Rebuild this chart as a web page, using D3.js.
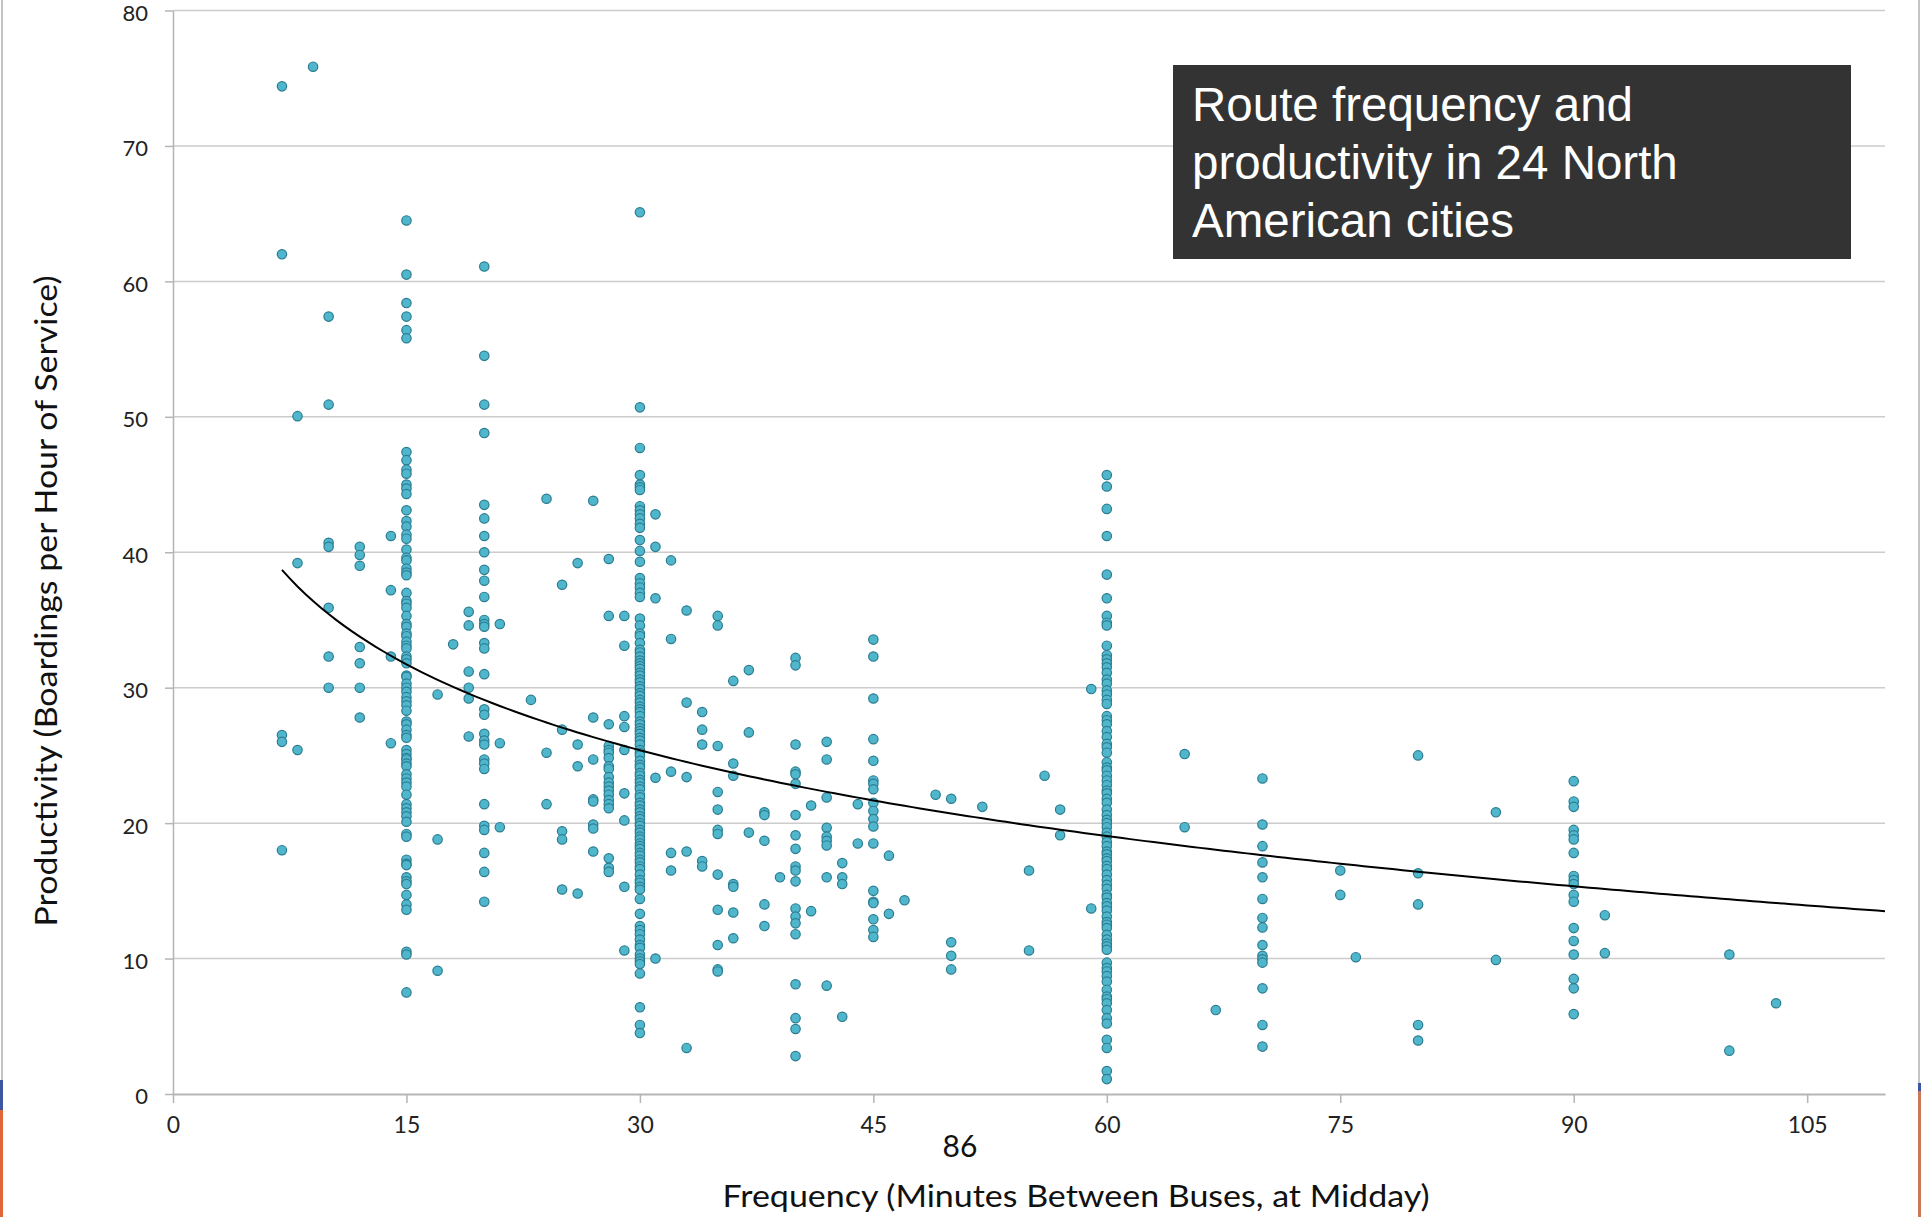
<!DOCTYPE html>
<html>
<head>
<meta charset="utf-8">
<script src="https://cdn.jsdelivr.net/npm/d3@7"></script>
<style>
  body { margin: 0; background: #fff; }
  svg { display: block; }
</style>
</head>
<body>
<script>
// frequencies (minutes between buses) and the productivity readings at each one
var freqs = [7, 8, 9, 10, 12, 14, 15, 17, 18, 19, 20, 21, 23, 24, 25, 26, 27, 28, 29, 30,
  31, 32, 33, 34, 35, 36, 37, 38, 39, 40, 41, 42, 43, 44, 45, 46, 47, 49, 50, 52,
  55, 56, 57, 59, 60, 65, 67, 70, 75, 76, 80, 85, 90, 92, 100, 103];

var productivity = [
  [74.4, 62.0, 26.5, 26.0, 18.0],                       // 7
  [50.05, 39.2, 25.4],                                  // 8
  [75.85],                                              // 9
  [57.4, 50.9, 40.7, 40.4, 35.9, 32.3, 30.0],           // 10
  [40.4, 39.8, 39.0, 33.0, 31.8, 30.0, 27.8],           // 12
  [41.2, 37.2, 32.3, 25.9],                             // 14
  [64.5, 60.5, 58.4, 57.4, 56.4, 55.8, 47.4, 46.8, 46.1, 45.8, 45.0, 44.7, 44.3, 43.1, 42.3,
   41.9, 41.3, 41.0, 40.2, 39.6, 39.4, 38.8, 38.5, 38.3, 37.0, 36.4, 36.2, 35.9, 35.3, 34.7,
   34.5, 34.0, 33.8, 33.4, 33.1, 32.9, 32.3, 32.1, 31.8, 30.9, 30.8, 30.3, 30.0, 29.7, 29.3,
   29.0, 28.7, 28.3, 27.5, 27.3, 26.9, 26.5, 26.3, 25.4, 25.1, 24.8, 24.7, 24.4, 24.2, 23.6,
   23.3, 23.0, 22.7, 22.1, 21.4, 21.1, 20.8, 20.5, 20.1, 19.2, 19.0, 17.3, 17.0, 16.9, 16.0,
   15.7, 15.5, 14.7, 14.0, 13.6, 10.5, 10.3, 7.5],      // 15
  [29.5, 18.8, 9.1],                                    // 17
  [33.2],                                               // 18
  [35.6, 34.6, 31.2, 30.0, 29.2, 26.4],                 // 19
  [61.1, 54.5, 50.9, 48.8, 43.5, 42.5, 41.2, 40.0, 38.7, 37.9, 36.7, 35.0, 34.7, 34.5, 33.3,
   32.9, 31.0, 28.4, 28.0, 26.6, 26.1, 25.8, 24.7, 24.4, 24.0, 21.4, 19.8, 19.5, 17.8, 16.4,
   14.2],                                               // 20
  [34.7, 25.9, 19.7],                                   // 21
  [29.1],                                               // 23
  [43.95, 25.2, 21.4],                                  // 24
  [37.6, 26.9, 19.4, 18.8, 15.1],                       // 25
  [39.2, 25.8, 24.2, 14.8],                             // 26
  [43.8, 27.8, 24.7, 21.75, 21.6, 19.9, 19.6, 17.9],    // 27
  [39.5, 35.3, 27.3, 25.7, 25.4, 25.2, 24.8, 24.2, 24.0, 23.4, 23.0, 22.7, 22.4, 22.1, 21.7,
   21.4, 21.1, 17.4, 16.7, 16.4],                       // 28
  [35.3, 33.1, 27.9, 27.1, 25.4, 22.2, 20.2, 15.3, 10.6], // 29
  [65.1, 50.7, 47.7, 45.7, 45.0, 44.8, 44.6, 43.4, 43.1, 42.8, 42.5, 42.1, 41.8, 40.9, 40.1,
   39.3, 38.1, 37.7, 37.4, 37.0, 36.7, 35.1, 34.6, 34.0, 33.8, 33.3, 32.8, 32.6, 32.3, 32.0,
   31.8, 31.6, 31.4, 31.1, 30.9, 30.6, 30.4, 30.1, 29.9, 29.6, 29.4, 29.1, 28.9, 28.6, 28.4,
   28.2, 27.9, 27.5, 27.3, 27.0, 26.8, 26.6, 26.3, 26.1, 25.8, 25.4, 25.2, 25.0, 24.6, 24.3,
   24.1, 23.7, 23.5, 23.2, 23.0, 22.7, 22.5, 22.1, 21.9, 21.5, 21.3, 21.0, 20.8, 20.5, 20.3,
   20.0, 19.8, 19.5, 19.3, 19.0, 18.8, 18.5, 18.3, 18.1, 17.8, 17.6, 17.3, 17.1, 16.8, 16.6,
   16.2, 15.8, 15.6, 15.3, 15.1, 14.4, 13.3, 12.4, 12.1, 11.8, 11.4, 11.0, 10.8, 10.3, 10.0,
   9.8, 9.6, 8.9, 6.4, 5.1, 4.5],                       // 30
  [42.8, 40.4, 36.6, 23.35, 10.0],                      // 31
  [39.4, 33.6, 23.8, 17.8, 16.5],                       // 32
  [35.7, 28.9, 23.4, 17.9, 3.4],                        // 33
  [28.2, 26.9, 25.8, 17.2, 16.8],                       // 34
  [35.3, 34.6, 25.7, 22.3, 21.0, 19.5, 19.2, 16.2, 13.6, 11.0, 9.2, 9.05], // 35
  [30.5, 24.4, 23.5, 15.5, 15.3, 13.4, 11.5],           // 36
  [31.3, 26.7, 19.3],                                   // 37
  [20.8, 20.6, 18.7, 14.0, 12.4],                       // 38
  [16.0],                                               // 39
  [32.2, 31.65, 25.8, 23.8, 23.6, 22.9, 20.6, 19.1, 18.1, 16.8, 16.5, 15.7, 13.7, 13.1, 12.6,
   11.8, 8.1, 5.6, 4.8, 2.8],                           // 40
  [21.3, 13.5],                                         // 41
  [26.0, 24.7, 21.9, 19.65, 19.0, 18.7, 18.35, 16.0, 8.0], // 42
  [17.05, 16.0, 15.5, 5.7],                             // 43
  [21.4, 18.5],                                         // 44
  [33.55, 32.3, 29.2, 26.2, 24.6, 23.15, 22.9, 22.5, 21.5, 20.9, 20.3, 19.75, 18.5, 15.0,
   14.2, 14.1, 12.9, 12.1, 11.6],                       // 45
  [17.6, 13.3],                                         // 46
  [14.3],                                               // 47
  [22.1],                                               // 49
  [21.8, 11.2, 10.2, 9.2],                              // 50
  [21.2],                                               // 52
  [16.5, 10.6],                                         // 55
  [23.5],                                               // 56
  [21.0, 19.1],                                         // 57
  [29.9, 13.7],                                         // 59
  [45.7, 44.85, 43.2, 41.2, 38.35, 36.6, 35.3, 34.8, 34.6, 33.1, 32.4, 32.1, 31.8, 31.5, 31.1,
   30.6, 30.3, 29.8, 29.5, 29.1, 28.8, 27.9, 27.6, 27.3, 26.8, 26.35, 25.85, 25.6, 25.2, 24.5,
   24.1, 23.9, 23.5, 23.15, 22.8, 22.4, 22.2, 21.8, 21.5, 21.0, 20.6, 20.25, 20.0, 19.7, 19.3,
   19.0, 18.6, 18.3, 17.9, 17.7, 17.4, 17.2, 16.85, 16.6, 16.2, 15.8, 15.45, 15.15, 14.7, 14.5,
   14.1, 13.85, 13.55, 13.1, 12.7, 12.5, 12.25, 11.75, 11.4, 11.1, 10.9, 10.65, 9.7, 9.3, 9.05,
   8.7, 8.3, 7.7, 7.2, 7.0, 6.7, 6.2, 5.6, 5.2, 4.0, 3.4, 1.7, 1.1], // 60
  [25.1, 19.7],                                         // 65
  [6.2],                                                // 67
  [23.3, 19.9, 18.3, 17.1, 16.0, 14.4, 13.0, 12.3, 11.0, 10.2, 9.95, 9.7, 7.8, 5.1, 3.5], // 70
  [16.5, 14.7],                                         // 75
  [10.1],                                               // 76
  [25.0, 16.3, 14.0, 5.1, 3.95],                        // 80
  [20.8, 9.9],                                          // 85
  [23.1, 21.6, 21.2, 19.5, 19.1, 18.8, 17.8, 16.1, 15.8, 15.5, 14.7, 14.2, 12.25, 11.3, 10.3,
   8.5, 7.8, 5.9],                                      // 90
  [13.2, 10.4],                                         // 92
  [10.3, 3.2],                                          // 100
  [6.7]                                                 // 103
];

var xTicks = [0, 15, 30, 45, 60, 75, 90, 105];
var yTicks = [0, 10, 20, 30, 40, 50, 60, 70, 80];

// logarithmic trend line as drawn on the chart: y = a + b * ln(x), from x=7 to x=110
var trendA = 56.5;
var trendB = -9.148;
var trendFrom = 7;
var trendTo = 110;

var titleLines = ["Route frequency and", "productivity in 24 North", "American cities"];

// flatten to points
var points = [];
freqs.forEach(function(f, i) {
  productivity[i].forEach(function(v) { points.push({ f: f, v: v }); });
});

var w = 1921, h = 1217;
var plotLeft = 173, plotRight = 1885, plotTop = 10.5, plotBottom = 1094;

var svg = d3.select("body").append("svg")
  .attr("width", w)
  .attr("height", h);

svg.append("rect").attr("width", w).attr("height", h).attr("fill", "#fff");

var x = d3.scaleLinear().domain([0, 110]).range([plotLeft, plotRight]);
var y = d3.scaleLinear().domain([0, 80]).range([plotBottom, plotTop]);

// horizontal gridlines
svg.append("g")
  .selectAll("line")
  .data(yTicks.filter(function(d) { return d > 0; }))
  .enter()
  .append("line")
  .attr("x1", plotLeft)
  .attr("x2", plotRight)
  .attr("y1", function(d) { return y(d); })
  .attr("y2", function(d) { return y(d); })
  .style("stroke", "#cccccc")
  .style("stroke-width", 1.5);

var axisFont = "Lato, 'Open Sans', sans-serif";

// y axis
var yAxis = svg.append("g")
  .attr("transform", "translate(" + plotLeft + ",0)")
  .call(d3.axisLeft(y).tickValues(yTicks).tickSize(8).tickSizeOuter(0).tickPadding(17));
yAxis.select(".domain").style("stroke", "#b5b5b5").style("stroke-width", 1.5);
yAxis.selectAll(".tick line").style("stroke", "#b5b5b5").style("stroke-width", 1.5);
yAxis.selectAll("text")
  .attr("dy", "0.45em")
  .style("font-family", axisFont)
  .style("font-size", "22px")
  .style("fill", "#222");

// x axis
var xAxis = svg.append("g")
  .attr("transform", "translate(0," + plotBottom + ")")
  .call(d3.axisBottom(x).tickValues(xTicks).tickSize(9).tickSizeOuter(0).tickPadding(14));
xAxis.select(".domain").style("stroke", "#b5b5b5").style("stroke-width", 2);
xAxis.selectAll(".tick line").style("stroke", "#b5b5b5").style("stroke-width", 1.5);
xAxis.selectAll("text")
  .style("font-family", axisFont)
  .style("font-size", "23px")
  .style("fill", "#222");

// points
svg.append("g")
  .selectAll("circle")
  .data(points)
  .enter()
  .append("circle")
  .attr("cx", function(d) { return x(d.f); })
  .attr("cy", function(d) { return y(d.v); })
  .attr("r", 4.7)
  .style("fill", "#4fb6cc")
  .style("stroke", "#2b7c90")
  .style("stroke-width", 1.2);

// trend line
var trendXs = d3.range(trendFrom, trendTo + 0.5, 0.5);
var line = d3.line()
  .x(function(d) { return x(d); })
  .y(function(d) { return y(trendA + trendB * Math.log(d)); });
svg.append("path")
  .datum(trendXs)
  .attr("d", line)
  .style("fill", "none")
  .style("stroke", "#000")
  .style("stroke-width", 2);

// axis titles
svg.append("text")
  .text("Frequency (Minutes Between Buses, at Midday)")
  .attr("x", 1076)
  .attr("y", 1207)
  .attr("text-anchor", "middle")
  .attr("textLength", 707)
  .attr("lengthAdjust", "spacingAndGlyphs")
  .style("font-family", axisFont)
  .style("font-size", "30px")
  .style("fill", "#111");

svg.append("text")
  .text("Productivity (Boardings per Hour of Service)")
  .attr("transform", "translate(57,601) rotate(-90)")
  .attr("text-anchor", "middle")
  .attr("textLength", 651)
  .attr("lengthAdjust", "spacingAndGlyphs")
  .style("font-family", axisFont)
  .style("font-size", "30px")
  .style("fill", "#111");

svg.append("text")
  .text("86")
  .attr("x", 960)
  .attr("y", 1157)
  .attr("text-anchor", "middle")
  .style("font-family", axisFont)
  .style("font-size", "30px")
  .style("fill", "#111");

// title box
svg.append("rect")
  .attr("x", 1173).attr("y", 65)
  .attr("width", 678).attr("height", 194)
  .attr("fill", "#333333");

svg.append("g")
  .selectAll("text")
  .data(titleLines)
  .enter()
  .append("text")
  .text(function(d) { return d; })
  .attr("x", 1192)
  .attr("y", function(d, i) { return 121 + i * 58; })
  .style("font-family", "'Liberation Sans', Arial, sans-serif")
  .style("font-size", "47.5px")
  .style("fill", "#fff");

// page edges of the screenshot
svg.append("line").attr("x1", 2).attr("x2", 2).attr("y1", 0).attr("y2", h)
  .style("stroke", "#c4c4c4").style("stroke-width", 2);
svg.append("line").attr("x1", 1919).attr("x2", 1919).attr("y1", 0).attr("y2", h)
  .style("stroke", "#c4c4c4").style("stroke-width", 2);
svg.append("rect").attr("x", 0).attr("y", 1080).attr("width", 3).attr("height", 30).attr("fill", "#3b55a0");
svg.append("rect").attr("x", 0).attr("y", 1110).attr("width", 3).attr("height", 107).attr("fill", "#e0673a");
svg.append("rect").attr("x", 1918).attr("y", 1083).attr("width", 3).attr("height", 8).attr("fill", "#3b55a0");
svg.append("rect").attr("x", 1918).attr("y", 1091).attr("width", 3).attr("height", 126).attr("fill", "#c9765a");
</script>
</body>
</html>
